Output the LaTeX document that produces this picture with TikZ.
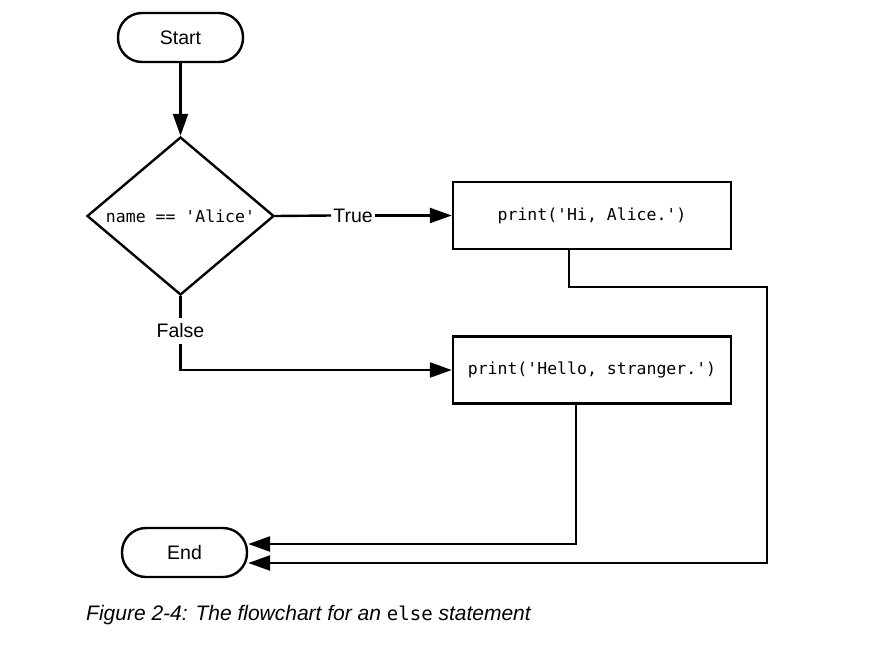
\documentclass[tikz,border=0pt]{standalone}
\usepackage{fontspec}
\setmainfont{Liberation Sans}
\newfontfamily\codefont{DejaVu Sans Mono}
\usetikzlibrary{arrows.meta,shapes.geometric}
\begin{document}
\begin{tikzpicture}[x=1pt,y=-1pt,
  lw/.style={line width=2.4pt},
  term/.style={draw,lw,rectangle,rounded corners=24pt,minimum width=125pt,minimum height=49pt,inner sep=0pt,font=\fontsize{19.5}{23}\selectfont},
  proc/.style={draw,lw,rectangle,minimum width=278pt,minimum height=67pt,inner sep=0pt,font=\codefont\fontsize{16.5}{19}\selectfont},
  dec/.style={draw,lw,diamond,aspect=1.18,minimum width=187pt,minimum height=158pt,inner sep=0pt,font=\codefont\fontsize{16.5}{19}\selectfont},
  lab/.style={inner xsep=2pt,inner ysep=6pt,font=\fontsize{19.5}{23}\selectfont},
  conn/.style={lw,line join=miter},
  arr/.style={conn,-{Triangle[length=22pt,width=15pt]}},
]
\path[use as bounding box,fill=white] (0,0) rectangle (896,645);
\node[term] (start) at (180.5,37.5) {Start};
\node[dec] (dec) at (180.5,216) {name == 'Alice'};
\node[proc] (b1) at (592,215.5) {print('Hi, Alice.')};
\node[proc] (b2) at (592,370) {print('Hello, stranger.')};
\node[term] (end) at (184.5,552.5) {End};
\node[lab] (true) at (353,215.5) {True};
\node[lab] (false) at (180.5,331) {False};
\coordinate (c1) at (767,287);
\node[anchor=west,inner sep=0pt,font=\itshape\fontsize{21}{24}\selectfont] (cap) at (86,615) {Figure 2-4: The flowchart for an {\codefont\upshape\fontsize{19}{24}\selectfont else} statement};
\draw[arr] (start) -- (dec);
\draw[conn] (dec.east) -- (true.west);
\draw[arr] (true.east) -- (b1.west);
\draw[conn] (dec.south) -- (false.north);
\draw[arr] (false.south) |- (b2.west);
\draw[arr] ([xshift=-23pt]b1.south) |- (c1) |- ([yshift=-10.5pt]end.east);
\draw[arr] ([xshift=-16pt]b2.south) |- ([yshift=8.5pt]end.east);
\end{tikzpicture}
\end{document}
